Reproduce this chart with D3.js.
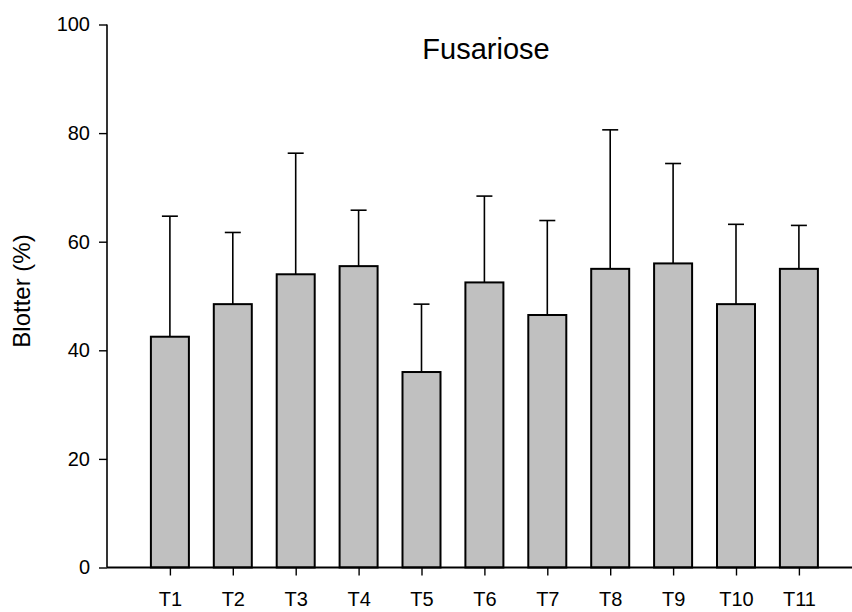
<!DOCTYPE html>
<html>
<head>
<meta charset="utf-8">
<script src="https://cdn.jsdelivr.net/npm/d3@7"></script>
<style>
  html, body { margin: 0; padding: 0; background: #fff; }
  svg { display: block; font-family: Arial, "Liberation Sans", sans-serif; }
</style>
</head>
<body>
<svg id="chart" width="852" height="612"></svg>
<script>
const categories = ["T1","T2","T3","T4","T5","T6","T7","T8","T9","T10","T11"];
const means = [42.5, 48.5, 54.0, 55.5, 36.0, 52.5, 46.5, 55.0, 56.0, 48.5, 55.0];
const errTops = [64.7, 61.7, 76.3, 65.8, 48.5, 68.4, 63.9, 80.6, 74.4, 63.2, 63.0];
const yTicks = [0, 20, 40, 60, 80, 100];
const title = "Fusariose";
const yLabel = "Blotter (%)";

const svg = d3.select("#chart");
const x0 = 107, yBottom = 567.5, yTop = 24.5;

const x = d3.scaleLinear().domain([0, 12]).range([x0, x0 + 12 * 62.9]);
const y = d3.scaleLinear().domain([0, 100]).range([yBottom, yTop]);
const barW = 38, capHalf = 8;

const data = categories.map((c, i) => ({ c, i: i + 1, m: means[i], e: errTops[i] }));

// error bars
const eg = svg.append("g").attr("stroke", "#000").attr("stroke-width", 1.6);
eg.selectAll("line.v").data(data).enter().append("line")
  .attr("x1", d => x(d.i)).attr("x2", d => x(d.i))
  .attr("y1", d => y(d.m)).attr("y2", d => y(d.e));
eg.selectAll("line.c").data(data).enter().append("line")
  .attr("x1", d => x(d.i) - capHalf).attr("x2", d => x(d.i) + capHalf)
  .attr("y1", d => y(d.e)).attr("y2", d => y(d.e));

// bars
svg.append("g").selectAll("rect").data(data).enter().append("rect")
  .attr("x", d => x(d.i) - barW / 2)
  .attr("width", barW)
  .attr("y", d => y(d.m))
  .attr("height", d => y(0) - y(d.m))
  .attr("fill", "#c0c0c0")
  .attr("stroke", "#000")
  .attr("stroke-width", 2);

// y axis
const yAxis = d3.axisLeft(y).tickValues(yTicks).tickSize(8).tickPadding(9).tickFormat(d3.format("d"));
const gy = svg.append("g").attr("transform", `translate(${x0},0)`).call(yAxis);
gy.select(".domain").attr("d", `M0,${yTop}V${yBottom}`).attr("stroke-width", 1.6);
gy.selectAll(".tick line").attr("stroke-width", 1.4);
gy.selectAll("text").attr("font-size", 20).attr("font-family", "Arial, 'Liberation Sans', sans-serif").attr("fill", "#000");

// x axis
const xAxis = d3.axisBottom(x).tickValues(data.map(d => d.i)).tickSize(8).tickPadding(16)
  .tickFormat(v => categories[v - 1]);
const gx = svg.append("g").attr("transform", `translate(0,${yBottom})`).call(xAxis);
gx.select(".domain").attr("d", `M${x0},0H${x(12)}`).attr("stroke-width", 2);
gx.selectAll(".tick line").attr("stroke-width", 1.4);
gx.selectAll("text").attr("font-size", 20).attr("font-family", "Arial, 'Liberation Sans', sans-serif").attr("fill", "#000");

// title
svg.append("text").attr("x", 486).attr("y", 59).attr("text-anchor", "middle")
  .attr("font-size", 29).attr("fill", "#000").text(title);

// y label
svg.append("text").attr("transform", `translate(30,291) rotate(-90)`)
  .attr("text-anchor", "middle").attr("font-size", 24).attr("fill", "#000").text(yLabel);
</script>
</body>
</html>
